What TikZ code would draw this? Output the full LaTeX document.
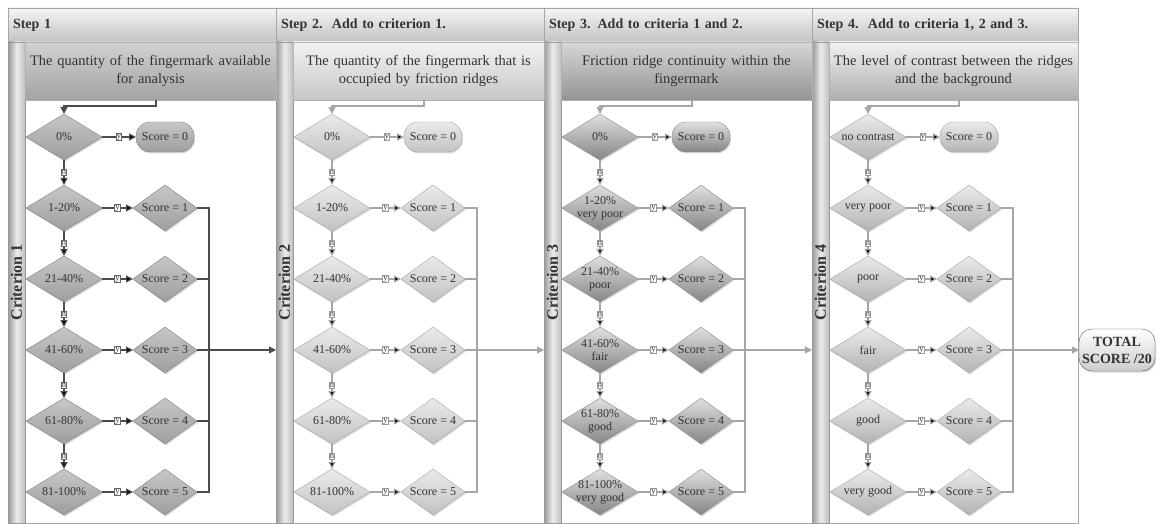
\documentclass[tikz,border=0pt]{standalone}
\usepackage{fontspec}
\setmainfont{Liberation Serif}
\usetikzlibrary{positioning,shapes.geometric,arrows.meta,shadows}

\begin{document}
\begin{tikzpicture}
[x=1pt,y=1pt,
 every node/.style={text=black!80,inner sep=0pt,outer sep=0pt},
 pane/.style={rectangle,draw=black!35,fill=white,anchor=north west,minimum height=515pt},
 hdr/.style={rectangle,draw=black!35,top color=black!4,bottom color=black!24,anchor=north west,minimum height=34pt,inner xsep=5pt,align=left,font=\fontsize{14}{16}\bfseries\selectfont},
 desc/.style={rectangle,draw=black!30,anchor=north west,minimum width=251pt,minimum height=58pt,text width=245pt,align=center,font=\fontsize{14.5}{18}\selectfont},
 bar/.style={rectangle,draw=black!40,rotate=90,minimum width=481pt,minimum height=17pt,left color=black!40,right color=black!25,middle color=black!8,font=\fontsize{16}{16}\bfseries\selectfont},
 shade/.style={drop shadow={opacity=0.3,shadow xshift=1pt,shadow yshift=-1.5pt}},
 dec/.style={diamond,aspect=1.65,minimum width=76pt,minimum height=46pt,inner sep=-5pt,align=center,font=\fontsize{12}{13}\selectfont,shade},
 sc/.style={dec,minimum width=64pt},
 zero/.style={rectangle,rounded corners=14pt,minimum width=58pt,minimum height=30pt,font=\fontsize{12}{13}\selectfont,shade},
 total/.style={rectangle,rounded corners=13pt,draw=black!65,top color=white,bottom color=black!20,minimum width=76pt,minimum height=42pt,align=center,font=\fontsize{14}{17}\bfseries\selectfont,shade},
 lab/.style={rectangle,fill=white,draw=black!40,inner sep=0.7pt,font=\fontsize{8.5}{8.5}\selectfont},
 labA/.style={lab,draw=black!60},
 toneA/.style={top color=black!22,bottom color=black!38,draw=black!50},
 toneB/.style={top color=black!8,bottom color=black!24,draw=black!35},
 toneC/.style={top color=black!12,bottom color=black!48,draw=black!45},
 toneD/.style={top color=black!8,bottom color=black!30,draw=black!35},
 descA/.style={top color=black!18,bottom color=black!36},
 descB/.style={top color=black!5,bottom color=black!22},
 descC/.style={top color=black!16,bottom color=black!42},
 descD/.style={top color=black!5,bottom color=black!32},
 flowA/.style={draw=black!70,line width=1.2pt,-{Triangle[length=7pt,width=7pt]}},
 flowL/.style={draw=black!35,line width=1.2pt,-{Triangle[length=7pt,width=7pt]}},
 joinA/.style={draw=black!70,line width=1.2pt},
 joinL/.style={draw=black!35,line width=1.2pt}]
\useasboundingbox (0,0) rectangle (1159,523);

% the four swim lanes
\node[pane,minimum width=268pt] (pnlA) at (8,515)   {};
\node[pane,minimum width=268pt] (pnlB) at (276,515) {};
\node[pane,minimum width=268pt] (pnlC) at (544,515) {};
\node[pane,minimum width=266pt] (pnlD) at (812,515) {};
\node[hdr,text width=258pt] (hdrA) at (8,515)   {Step 1};
\node[hdr,text width=258pt] (hdrB) at (276,515) {Step 2.\ \ Add to criterion 1.};
\node[hdr,text width=258pt] (hdrC) at (544,515) {Step 3. Add to criteria 1 and 2.};
\node[hdr,text width=256pt] (hdrD) at (812,515) {Step 4.\ \ Add to criteria 1, 2 and 3.};
\node[bar] (crA) at (16.5,240.5)  {Criterion 1};
\node[bar] (crB) at (284.5,240.5) {Criterion 2};
\node[bar] (crC) at (552.5,240.5) {Criterion 3};
\node[bar] (crD) at (820.5,240.5) {Criterion 4};
\node[desc,descA] (qA) at (25,481)  {The quantity of the fingermark available\\for analysis};
\node[desc,descB] (qB) at (293,481) {The quantity of the fingermark that is\\occupied by friction ridges};
\node[desc,descC] (qC) at (561,481) {Friction ridge continuity within the\\fingermark};
\node[desc,descD,minimum width=249pt] (qD) at (829,481) {The level of contrast between the ridges\\and the background};

% criterion 1
\node[dec,toneA]  (aD0) at (64,386) {0\%};
\node[dec,toneA]  (aD1) [on grid,below=71pt of aD0] {1-20\%};
\node[dec,toneA]  (aD2) [on grid,below=71pt of aD1] {21-40\%};
\node[dec,toneA]  (aD3) [on grid,below=71pt of aD2] {41-60\%};
\node[dec,toneA]  (aD4) [on grid,below=71pt of aD3] {61-80\%};
\node[dec,toneA]  (aD5) [on grid,below=71pt of aD4] {81-100\%};
\node[zero,toneA] (aS0) [on grid,right=101pt of aD0] {Score = 0};
\node[sc,toneA]   (aS1) [on grid,right=101pt of aD1] {Score = 1};
\node[sc,toneA]   (aS2) [on grid,right=101pt of aD2] {Score = 2};
\node[sc,toneA]   (aS3) [on grid,right=101pt of aD3] {Score = 3};
\node[sc,toneA]   (aS4) [on grid,right=101pt of aD4] {Score = 4};
\node[sc,toneA]   (aS5) [on grid,right=101pt of aD5] {Score = 5};
\coordinate[on grid,right=44pt of aS3] (aJ);
\draw[flowA] ([xshift=5.5pt]qA.south) -- ++(0,-6) -| (aD0);
\path[flowA] (aD0) edge node[labA] {y} (aS0);
\path[flowA] (aD1) edge node[labA] {y} (aS1);
\path[flowA] (aD2) edge node[labA] {y} (aS2);
\path[flowA] (aD3) edge node[labA] {y} (aS3);
\path[flowA] (aD4) edge node[labA] {y} (aS4);
\path[flowA] (aD5) edge node[labA] {y} (aS5);
\path[flowA] (aD0) edge node[labA] {n} (aD1);
\path[flowA] (aD1) edge node[labA] {n} (aD2);
\path[flowA] (aD2) edge node[labA] {n} (aD3);
\path[flowA] (aD3) edge node[labA] {n} (aD4);
\path[flowA] (aD4) edge node[labA] {n} (aD5);
\draw[joinA] (aS1) -| (aJ);
\draw[joinA] (aS2) -| (aJ);
\draw[joinA] (aS4) -| (aJ);
\draw[joinA] (aS5) -| (aJ);
\draw[flowA] (aS3) -- (aS3 -| pnlB.west);

% criterion 2
\node[dec,toneB]  (bD0) at (332,386) {0\%};
\node[dec,toneB]  (bD1) [on grid,below=71pt of bD0] {1-20\%};
\node[dec,toneB]  (bD2) [on grid,below=71pt of bD1] {21-40\%};
\node[dec,toneB]  (bD3) [on grid,below=71pt of bD2] {41-60\%};
\node[dec,toneB]  (bD4) [on grid,below=71pt of bD3] {61-80\%};
\node[dec,toneB]  (bD5) [on grid,below=71pt of bD4] {81-100\%};
\node[zero,toneB] (bS0) [on grid,right=101pt of bD0] {Score = 0};
\node[sc,toneB]   (bS1) [on grid,right=101pt of bD1] {Score = 1};
\node[sc,toneB]   (bS2) [on grid,right=101pt of bD2] {Score = 2};
\node[sc,toneB]   (bS3) [on grid,right=101pt of bD3] {Score = 3};
\node[sc,toneB]   (bS4) [on grid,right=101pt of bD4] {Score = 4};
\node[sc,toneB]   (bS5) [on grid,right=101pt of bD5] {Score = 5};
\coordinate[on grid,right=44pt of bS3] (bJ);
\draw[flowL] ([xshift=5.5pt]qB.south) -- ++(0,-6) -| (bD0);
\path[flowL] (bD0) edge node[lab] {y} (bS0);
\path[flowL] (bD1) edge node[lab] {y} (bS1);
\path[flowL] (bD2) edge node[lab] {y} (bS2);
\path[flowL] (bD3) edge node[lab] {y} (bS3);
\path[flowL] (bD4) edge node[lab] {y} (bS4);
\path[flowL] (bD5) edge node[lab] {y} (bS5);
\path[flowL] (bD0) edge node[lab] {n} (bD1);
\path[flowL] (bD1) edge node[lab] {n} (bD2);
\path[flowL] (bD2) edge node[lab] {n} (bD3);
\path[flowL] (bD3) edge node[lab] {n} (bD4);
\path[flowL] (bD4) edge node[lab] {n} (bD5);
\draw[joinL] (bS1) -| (bJ);
\draw[joinL] (bS2) -| (bJ);
\draw[joinL] (bS4) -| (bJ);
\draw[joinL] (bS5) -| (bJ);
\draw[flowL] (bS3) -- (bS3 -| pnlC.west);

% criterion 3
\node[dec,toneC]  (cD0) at (600,386) {0\%};
\node[dec,toneC]  (cD1) [on grid,below=71pt of cD0] {1-20\%\\very poor};
\node[dec,toneC]  (cD2) [on grid,below=71pt of cD1] {21-40\%\\poor};
\node[dec,toneC]  (cD3) [on grid,below=71pt of cD2] {41-60\%\\fair};
\node[dec,toneC]  (cD4) [on grid,below=71pt of cD3] {61-80\%\\good};
\node[dec,toneC]  (cD5) [on grid,below=71pt of cD4] {81-100\%\\very good};
\node[zero,toneC] (cS0) [on grid,right=101pt of cD0] {Score = 0};
\node[sc,toneC]   (cS1) [on grid,right=101pt of cD1] {Score = 1};
\node[sc,toneC]   (cS2) [on grid,right=101pt of cD2] {Score = 2};
\node[sc,toneC]   (cS3) [on grid,right=101pt of cD3] {Score = 3};
\node[sc,toneC]   (cS4) [on grid,right=101pt of cD4] {Score = 4};
\node[sc,toneC]   (cS5) [on grid,right=101pt of cD5] {Score = 5};
\coordinate[on grid,right=44pt of cS3] (cJ);
\draw[flowL] ([xshift=5.5pt]qC.south) -- ++(0,-6) -| (cD0);
\path[flowL] (cD0) edge node[lab] {y} (cS0);
\path[flowL] (cD1) edge node[lab] {y} (cS1);
\path[flowL] (cD2) edge node[lab] {y} (cS2);
\path[flowL] (cD3) edge node[lab] {y} (cS3);
\path[flowL] (cD4) edge node[lab] {y} (cS4);
\path[flowL] (cD5) edge node[lab] {y} (cS5);
\path[flowL] (cD0) edge node[lab] {n} (cD1);
\path[flowL] (cD1) edge node[lab] {n} (cD2);
\path[flowL] (cD2) edge node[lab] {n} (cD3);
\path[flowL] (cD3) edge node[lab] {n} (cD4);
\path[flowL] (cD4) edge node[lab] {n} (cD5);
\draw[joinL] (cS1) -| (cJ);
\draw[joinL] (cS2) -| (cJ);
\draw[joinL] (cS4) -| (cJ);
\draw[joinL] (cS5) -| (cJ);
\draw[flowL] (cS3) -- (cS3 -| pnlD.west);

% criterion 4
\node[dec,toneD]  (dD0) at (868,386) {no contrast};
\node[dec,toneD]  (dD1) [on grid,below=71pt of dD0] {very poor};
\node[dec,toneD]  (dD2) [on grid,below=71pt of dD1] {poor};
\node[dec,toneD]  (dD3) [on grid,below=71pt of dD2] {fair};
\node[dec,toneD]  (dD4) [on grid,below=71pt of dD3] {good};
\node[dec,toneD]  (dD5) [on grid,below=71pt of dD4] {very good};
\node[zero,toneD] (dS0) [on grid,right=101pt of dD0] {Score = 0};
\node[sc,toneD]   (dS1) [on grid,right=101pt of dD1] {Score = 1};
\node[sc,toneD]   (dS2) [on grid,right=101pt of dD2] {Score = 2};
\node[sc,toneD]   (dS3) [on grid,right=101pt of dD3] {Score = 3};
\node[sc,toneD]   (dS4) [on grid,right=101pt of dD4] {Score = 4};
\node[sc,toneD]   (dS5) [on grid,right=101pt of dD5] {Score = 5};
\coordinate[on grid,right=44pt of dS3] (dJ);
\draw[flowL] ([xshift=5.5pt]qD.south) -- ++(0,-6) -| (dD0);
\path[flowL] (dD0) edge node[lab] {y} (dS0);
\path[flowL] (dD1) edge node[lab] {y} (dS1);
\path[flowL] (dD2) edge node[lab] {y} (dS2);
\path[flowL] (dD3) edge node[lab] {y} (dS3);
\path[flowL] (dD4) edge node[lab] {y} (dS4);
\path[flowL] (dD5) edge node[lab] {y} (dS5);
\path[flowL] (dD0) edge node[lab] {n} (dD1);
\path[flowL] (dD1) edge node[lab] {n} (dD2);
\path[flowL] (dD2) edge node[lab] {n} (dD3);
\path[flowL] (dD3) edge node[lab] {n} (dD4);
\path[flowL] (dD4) edge node[lab] {n} (dD5);
\draw[joinL] (dS1) -| (dJ);
\draw[joinL] (dS2) -| (dJ);
\draw[joinL] (dS4) -| (dJ);
\draw[joinL] (dS5) -| (dJ);

\node[total] (sum) at (1117,173) {TOTAL\\SCORE /20};
\draw[flowL] (dS3) -- (sum);
\end{tikzpicture}
\end{document}
